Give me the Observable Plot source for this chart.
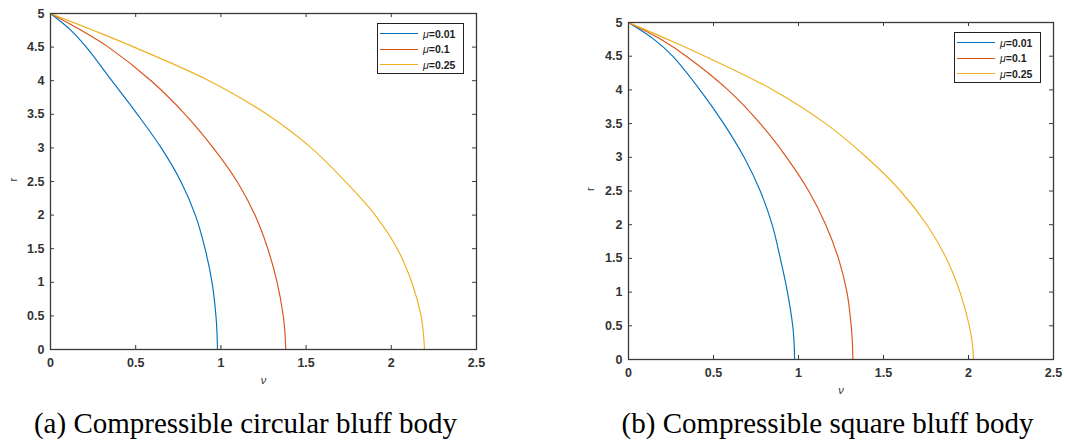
<!DOCTYPE html>
<html>
<head>
<meta charset="utf-8">
<script src="https://cdn.jsdelivr.net/npm/d3@7"></script>
<script src="https://cdn.jsdelivr.net/npm/@observablehq/plot@0.6"></script>
<style>
  html, body { margin: 0; padding: 0; background: #fff; }
  #root { position: relative; width: 1065px; height: 445px; overflow: hidden; font-family: "Liberation Sans", Arial, sans-serif; }
  .panel { position: absolute; top: 0; }
  .legend { position: absolute; box-sizing: border-box; width: 87px; height: 51px; border: 1.2px solid #222; background: #fff; padding-top: 2px; }
  .legend .row { display: flex; align-items: center; height: 15.5px; }
  .legend .sw { width: 38px; height: 0; margin-left: 2px; margin-right: 5px; border-top: 1.3px solid; }
  .legend .tx { font-size: 10.5px; font-weight: bold; color: #222; }
  .legend .tx i { font-weight: normal; }
  .caption { position: absolute; top: 409px; text-align: center; font-family: "Liberation Serif", "Times New Roman", serif; font-size: 29px; line-height: 29px; color: #000; white-space: nowrap; }
</style>
</head>
<body>
<div id="root"></div>
<script>
// ---------- data: ν at each r ----------
const xTicks = [0, 0.5, 1, 1.5, 2, 2.5];
const yTicks = [0, 0.5, 1, 1.5, 2, 2.5, 3, 3.5, 4, 4.5, 5];
const muNames = ["0.01", "0.1", "0.25"];
const seriesColors = ["#0072BD", "#D95319", "#EDB120"];

const rGrid = [5, 4.75, 4.5, 4, 3.5, 3, 2.5, 2, 1.5, 1, 0.5, 0.25, 0];

// (a) Compressible circular bluff body
const circNuMu001 = [0, 0.12, 0.21, 0.36, 0.51, 0.65, 0.765, 0.85, 0.907, 0.948, 0.971, 0.977, 0.98];
const circNuMu01  = [0, 0.18, 0.34, 0.59, 0.79, 0.955, 1.095, 1.2, 1.275, 1.33, 1.366, 1.376, 1.38];
const circNuMu025 = [0, 0.25, 0.49, 0.93, 1.27, 1.53, 1.73, 1.905, 2.035, 2.12, 2.175, 2.188, 2.195];

// (b) Compressible square bluff body
const sqNuMu001 = [0, 0.15, 0.26, 0.42, 0.56, 0.68, 0.775, 0.845, 0.893, 0.935, 0.966, 0.974, 0.977];
const sqNuMu01  = [0, 0.19, 0.34, 0.585, 0.775, 0.93, 1.06, 1.16, 1.235, 1.285, 1.31, 1.317, 1.32];
const sqNuMu025 = [0, 0.23, 0.45, 0.85, 1.16, 1.40, 1.60, 1.755, 1.87, 1.95, 2.005, 2.022, 2.03];

const panels = [
  { series: [circNuMu001, circNuMu01, circNuMu025], caption: "(a) Compressible circular bluff body",
    left: 0, width: 530, mL: 50, mR: 54, mT: 13, mB: 51, capLeft: 0, capWidth: 491, legLeft: 377, legTop: 23 },
  { series: [sqNuMu001, sqNuMu01, sqNuMu025], caption: "(b) Compressible square bluff body",
    left: 560, width: 505, mL: 68, mR: 12, mT: 22, mB: 41, capLeft: 560, capWidth: 535, legLeft: 954, legTop: 32 }
];

const root = document.getElementById("root");
const axisColor = "#3a3a3a";
const H = 400;

for (const p of panels) {
  const rows = [];
  p.series.forEach((nus, i) => nus.forEach((nu, j) => rows.push({nu, r: rGrid[j], mu: muNames[i]})));
  const plotH = H - p.mT - p.mB;
  const plotW = p.width - p.mL - p.mR;
  const tick = 4;
  const chart = Plot.plot({
    width: p.width, height: H,
    marginLeft: p.mL, marginRight: p.mR, marginTop: p.mT, marginBottom: p.mB,
    style: { fontFamily: "'Liberation Sans', Arial, sans-serif", background: "transparent", overflow: "visible" },
    x: { domain: [0, 2.5], axis: null },
    y: { domain: [0, 5], axis: null },
    color: { domain: muNames, range: seriesColors },
    marks: [
      Plot.line(rows, { x: "nu", y: "r", z: "mu", stroke: "mu", strokeWidth: 1.15, curve: "catmull-rom" }),
      Plot.frame({ stroke: axisColor, strokeWidth: 1.3 }),
      // inward ticks on all four sides
      Plot.tickX(xTicks, { x: d => d, insetTop: plotH - tick, stroke: axisColor }),
      Plot.tickX(xTicks, { x: d => d, insetBottom: plotH - tick, stroke: axisColor }),
      Plot.tickY(yTicks, { y: d => d, insetRight: plotW - tick, stroke: axisColor }),
      Plot.tickY(yTicks, { y: d => d, insetLeft: plotW - tick, stroke: axisColor }),
      Plot.axisX(xTicks, { anchor: "bottom", tickSize: 0, tickPadding: 9, fontSize: 12.5, fontWeight: "bold", fill: "#333", label: null, tickFormat: d => String(d) }),
      Plot.axisY(yTicks, { anchor: "left", tickSize: 0, tickPadding: 6, fontSize: 12.5, fontWeight: "bold", fill: "#333", label: null, tickFormat: d => String(d) }),
      Plot.text(["ν"], { text: d => d, frameAnchor: "bottom", dy: 34, fontSize: 11, fontStyle: "italic", fill: "#333" }),
      Plot.text(["r"], { text: d => d, frameAnchor: "left", dx: p.mL === 50 ? -37 : -38, rotate: -90, fontSize: 11, fill: "#333" })
    ]
  });
  const wrap = document.createElement("div");
  wrap.className = "panel";
  wrap.style.left = p.left + "px";
  wrap.appendChild(chart);
  root.appendChild(wrap);

  // legend
  const leg = document.createElement("div");
  leg.className = "legend";
  leg.style.left = p.legLeft + "px";
  leg.style.top = p.legTop + "px";
  muNames.forEach((m, i) => {
    const row = document.createElement("div");
    row.className = "row";
    const sw = document.createElement("div");
    sw.className = "sw";
    sw.style.borderTopColor = seriesColors[i];
    const tx = document.createElement("span");
    tx.className = "tx";
    tx.innerHTML = "<i>μ</i>=" + m;
    row.appendChild(sw); row.appendChild(tx);
    leg.appendChild(row);
  });
  root.appendChild(leg);

  // caption
  const cap = document.createElement("div");
  cap.className = "caption";
  cap.style.left = p.capLeft + "px";
  cap.style.width = p.capWidth + "px";
  cap.textContent = p.caption;
  root.appendChild(cap);
}
</script>
</body>
</html>
